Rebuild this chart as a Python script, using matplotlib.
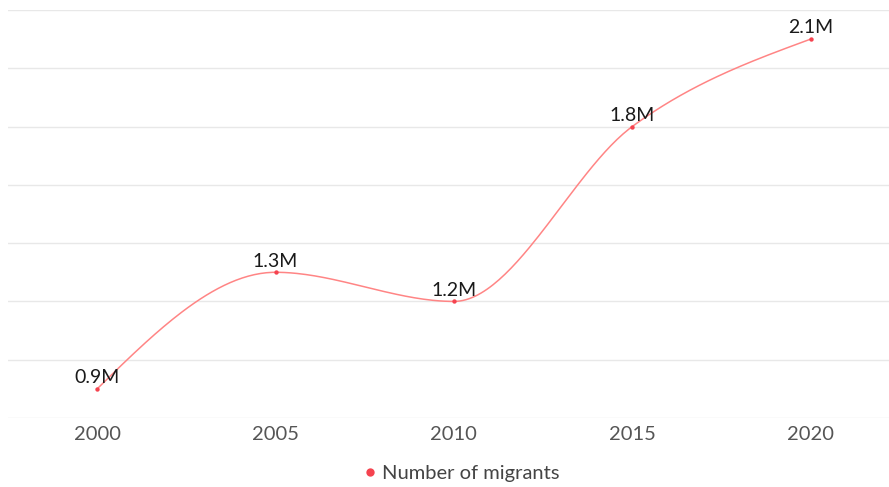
import numpy as np
import matplotlib
matplotlib.use('Agg')
import matplotlib.pyplot as plt
from matplotlib.lines import Line2D

plt.rcParams['font.family'] = ['Lato', 'DejaVu Sans']

# Data
years = ['2000', '2005', '2010', '2015', '2020']
migrants = [0.9, 1.3, 1.2, 1.8, 2.1]  # millions
labels = ['0.9M', '1.3M', '1.2M', '1.8M', '2.1M']
series_name = 'Number of migrants'

line_color = '#ff8585'
dot_color = '#f5434f'


def monotone_curve(x, y, n=60):
    # d3-style monotoneX (Steffen) interpolation
    x = np.asarray(x, float)
    y = np.asarray(y, float)
    h = np.diff(x)
    s = np.diff(y) / h
    t = np.zeros_like(y)
    for i in range(1, len(y) - 1):
        p = (s[i - 1] * h[i] + s[i] * h[i - 1]) / (h[i - 1] + h[i])
        t[i] = (np.sign(s[i - 1]) + np.sign(s[i])) * min(abs(s[i - 1]), abs(s[i]), 0.5 * abs(p))
    t[0] = (3 * s[0] - t[1]) / 2
    t[-1] = (3 * s[-1] - t[-2]) / 2
    xs, ys = [], []
    for i in range(len(h)):
        u = np.linspace(0, 1, n)
        h00 = 2 * u**3 - 3 * u**2 + 1
        h10 = u**3 - 2 * u**2 + u
        h01 = -2 * u**3 + 3 * u**2
        h11 = u**3 - u**2
        xs.append(x[i] + u * h[i])
        ys.append(h00 * y[i] + h10 * h[i] * t[i] + h01 * y[i + 1] + h11 * h[i] * t[i + 1])
    return np.concatenate(xs), np.concatenate(ys)


fig = plt.figure(figsize=(8.89, 4.87), dpi=100)
ax = fig.add_axes([8 / 889, 1 - 418 / 487, 881 / 889, 408 / 487])

xpos = np.arange(len(years))
cx, cy = monotone_curve(xpos, migrants)
ax.plot(cx, cy, color=line_color, lw=1.1, zorder=3)
ax.scatter(xpos, migrants, s=10, color=dot_color, zorder=4, linewidths=0)

for xi, yi, lab in zip(xpos, migrants, labels):
    ax.annotate(lab, (xi, yi), xytext=(0, 2), textcoords='offset points',
                ha='center', va='bottom', fontsize=14, color='#1a1a1a', zorder=5)

ax.set_xlim(-0.5, 4.44)
ax.set_ylim(0.8, 2.2)
ax.set_yticks(np.arange(0.8, 2.21, 0.2))
ax.set_yticklabels([])
ax.grid(axis='y', color='#e8e8e8', lw=1)
ax.set_axisbelow(True)
ax.tick_params(axis='y', length=0)
ax.set_xticks(xpos)
ax.set_xticklabels(years, fontsize=14.5, color='#555555')
ax.tick_params(axis='x', length=0, pad=6)
for sp in ax.spines.values():
    sp.set_visible(False)

handle = Line2D([], [], marker='o', linestyle='none', markersize=6,
                markerfacecolor=dot_color, markeredgewidth=0)
fig.legend([handle], [series_name], loc='center', bbox_to_anchor=(460 / 889, 1 - 473 / 487),
           frameon=False, fontsize=14.5, handletextpad=0.1, handlelength=1.0,
           labelcolor='#444444')

fig.savefig('out.png', dpi=100)
